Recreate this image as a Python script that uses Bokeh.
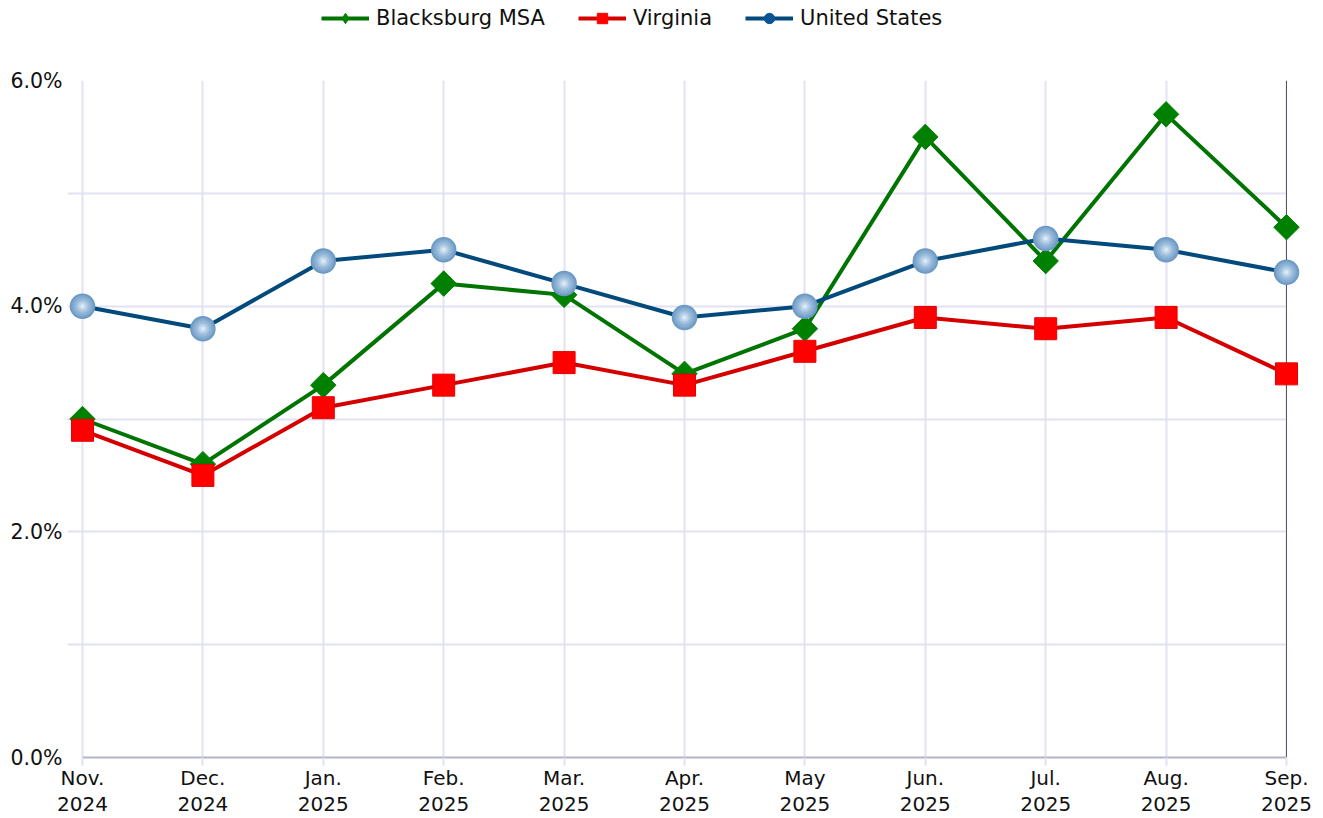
import math
from bokeh.plotting import figure
from bokeh.layouts import column
from bokeh.models import (Range1d, FixedTicker, PrintfTickFormatter, Legend, LegendItem,
                          ColumnDataSource, Span, BoxAnnotation)
from bokeh.embed import file_html
from bokeh.resources import INLINE

months = ["Nov.\n2024", "Dec.\n2024", "Jan.\n2025", "Feb.\n2025", "Mar.\n2025", "Apr.\n2025",
          "May\n2025", "Jun.\n2025", "Jul.\n2025", "Aug.\n2025", "Sep.\n2025"]
blacksburg = [3.0, 2.6, 3.3, 4.2, 4.1, 3.4, 3.8, 5.5, 4.4, 5.7, 4.7]
virginia = [2.9, 2.5, 3.1, 3.3, 3.5, 3.3, 3.6, 3.9, 3.8, 3.9, 3.4]
united_states = [4.0, 3.8, 4.4, 4.5, 4.2, 3.9, 4.0, 4.4, 4.6, 4.5, 4.3]
y_labels = [0, 2, 4, 6]
y_minor = [1, 3, 5]
series_names = ["Blacksburg MSA", "Virginia", "United States"]

x = list(range(len(months)))
last = len(months) - 1
src = ColumnDataSource(dict(x=x, b=blacksburg, v=virginia, u=united_states))

FONT = "DejaVu Sans"
GRID = "#e2e2f2"
GREEN_L, GREEN_M = "#007400", "#008000"
RED_L, RED_M = "#d40000", "#ff0000"
BLUE_L = "#034a7c"

# frame is widened by a small pad on each side so edge markers are not clipped
PAD_PX = 15
INNER_W = 1204
pad = PAD_PX * last / INNER_W

p = figure(frame_width=INNER_W + 2 * PAD_PX, frame_height=677, output_backend="svg",
           toolbar_location=None,
           x_range=Range1d(-pad, last + pad), y_range=Range1d(0, 6),
           min_border_left=82 - PAD_PX, min_border_right=1323 - 82 - INNER_W - PAD_PX,
           min_border_top=44, min_border_bottom=58)
p.outline_line_color = None
p.background_fill_color = "white"

# grid
p.xgrid.ticker = FixedTicker(ticks=x)
p.xgrid.grid_line_color = GRID
p.xgrid.grid_line_width = 2
p.ygrid.ticker = FixedTicker(ticks=y_labels, minor_ticks=y_minor)
p.ygrid.grid_line_color = GRID
p.ygrid.grid_line_width = 2
p.ygrid.minor_grid_line_color = GRID
p.ygrid.minor_grid_line_width = 2

# mask grid beyond the last month, then right border
p.add_layout(BoxAnnotation(left=last, fill_color="white", fill_alpha=1, line_color=None,
                           level="underlay"))
p.add_layout(Span(location=last, dimension="height", line_color="#555566", line_width=1,
                  level="underlay"))

# x axis
xa = p.xaxis[0]
xa.ticker = FixedTicker(ticks=x)
xa.bounds = (0, last)
xa.major_label_overrides = {i: m for i, m in enumerate(months)}
xa.axis_line_color = "#b4b4c4"
xa.axis_line_width = 2
xa.major_tick_line_color = GRID
xa.major_tick_line_width = 2
xa.major_tick_out = 8
xa.major_tick_in = 0
xa.minor_tick_line_color = None
xa.major_label_text_font = FONT
xa.major_label_text_font_size = "20px"
xa.major_label_text_color = "#111111"
xa.major_label_text_line_height = 1.1
xa.major_label_standoff = 0

# y axis
ya = p.yaxis[0]
ya.ticker = FixedTicker(ticks=y_labels, minor_ticks=y_minor)
ya.formatter = PrintfTickFormatter(format="%.1f%%")
ya.axis_line_color = None
ya.major_tick_line_color = None
ya.minor_tick_line_color = None
ya.major_tick_out = 0
ya.major_tick_in = 0
ya.minor_tick_out = 0
ya.minor_tick_in = 0
ya.major_label_text_font = FONT
ya.major_label_text_font_size = "20.5px"
ya.major_label_text_color = "#111111"
ya.major_label_standoff = 5

# series
p.line("x", "b", source=src, line_color=GREEN_L, line_width=4)
p.scatter("x", "b", source=src, marker="square", angle=math.pi / 4, size=18,
          fill_color=GREEN_M, line_color=GREEN_M)
p.line("x", "v", source=src, line_color=RED_L, line_width=4)
p.scatter("x", "v", source=src, marker="square", size=22, fill_color=RED_M,
          line_color="#e60000")
p.line("x", "u", source=src, line_color=BLUE_L, line_width=4)
p.scatter("x", "u", source=src, marker="circle", size=24, fill_color="#78a2c9",
          line_color="#6b99c3", line_width=1.5)
for s, c in [(20, "#86add1"), (16, "#95b8d9"), (12, "#a8c5e1"), (8, "#c0d6ea"), (4, "#dde9f4")]:
    p.scatter("x", "u", source=src, marker="circle", size=s, fill_color=c, line_color=None)

# legend strip
lf = figure(width=1323, height=36, output_backend="svg", toolbar_location=None,
            x_range=Range1d(0, 1), y_range=Range1d(0, 1),
            min_border_left=0, min_border_right=0, min_border_top=0, min_border_bottom=0)
lf.axis.visible = False
lf.grid.visible = False
lf.outline_line_color = None
items = []
for name, col, lc, mc, mk in [(series_names[0], "b", GREEN_L, GREEN_M, "diamond"),
                              (series_names[1], "v", RED_L, RED_M, "square"),
                              (series_names[2], "u", BLUE_L, "#0b5494", "circle")]:
    r1 = lf.line("x", col, source=src, line_color=lc, line_width=4, visible=False)
    r2 = lf.scatter("x", col, source=src, marker=mk, fill_color=mc, line_color=mc,
                    visible=False)
    items.append(LegendItem(label=name, renderers=[r1, r2]))
legend = Legend(items=items, orientation="horizontal", location=(254, 5),
                border_line_color=None, background_fill_alpha=0, label_text_font=FONT,
                label_text_font_size="21px", label_text_color="#111111", glyph_width=48,
                glyph_height=26, label_standoff=7, spacing=33, padding=0, margin=0)
lf.add_layout(legend)

layout = column(lf, p, spacing=0)
open("out.html", "w").write(file_html(layout, INLINE))
